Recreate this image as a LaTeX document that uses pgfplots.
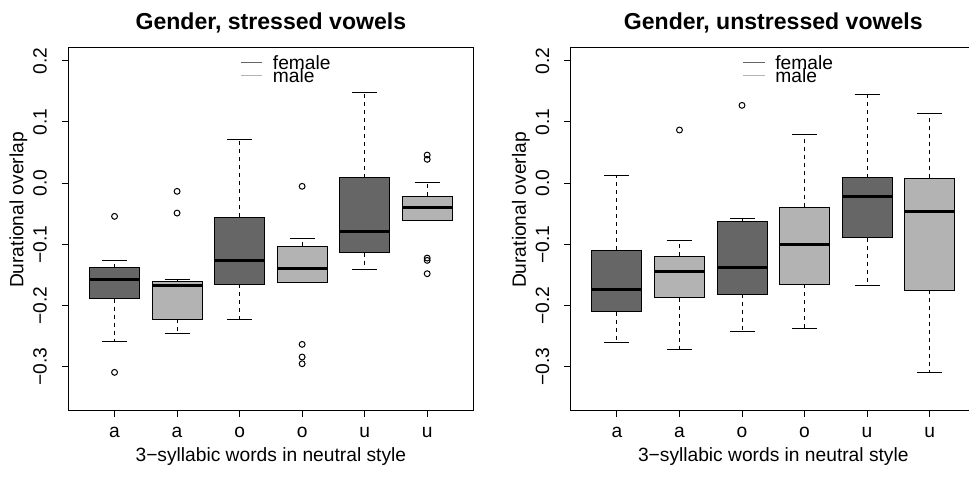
\documentclass[border=0pt]{standalone}
\usepackage{pgfplots}
\pgfplotsset{compat=1.18}
\usepackage{fontspec}
\setmainfont{Liberation Sans}
\definecolor{boxdark}{HTML}{666666}
\definecolor{boxlight}{HTML}{B3B3B3}
\newcommand\basefont{\fontsize{14.4pt}{17pt}\selectfont}
\newcommand\titlefont{\fontsize{17.3pt}{20pt}\selectfont\bfseries}
\pgfplotsset{
  rpanel/.style={
    scale only axis, width=303.9pt, height=272pt, anchor=south west,
    xmin=0.26, xmax=6.74, ymin=-0.3707, ymax=0.2219,
    axis line style={line width=0.75pt},
    every tick/.style={black, line width=0.75pt},
    tick align=outside, major tick length=5pt,
    xtick pos=left, ytick pos=left,
    xtick={1,2,3,4,5,6}, xticklabels={a,a,o,o,u,u},
    ytick={-0.3,-0.2,-0.1,0,0.1,0.2},
    yticklabels={−0.3,−0.2,−0.1,0.0,0.1,0.2},
    xticklabel style={font=\basefont, anchor=base, inner sep=0pt, yshift=-15.5pt},
    yticklabel style={font=\basefont, inner sep=0pt, xshift=-11.25pt, rotate=90, anchor=base},
    xlabel={3−syllabic words in neutral style},
    ylabel={Durational overlap},
    xlabel style={font=\basefont, at={(axis description cs:0.5,-0.127)}, anchor=center},
    ylabel style={font=\basefont, at={(axis description cs:-0.1229,0.5514)}, anchor=center},
    title style={font=\titlefont, at={(axis description cs:0.5,1)}, anchor=base, yshift=7pt},
    legend style={draw=none, fill=none, at={(axis description cs:0.4237,0.976)}, anchor=north west,
      inner sep=0pt, row sep=0pt, column sep=7.5pt, font=\basefont,
      nodes={inner sep=0pt, text height=10pt, text depth=0pt}},
    legend cell align=left,
  },
  legend image code/.code={\draw[#1, line width=0.75pt] (0pt,0.7pt) -- (16.3pt,0.7pt);},
  mbox/.style={forget plot, draw=black, line width=0.75pt, mark=none, solid},
  mmed/.style={forget plot, draw=black, line width=2.25pt, mark=none, solid},
  mwh/.style={forget plot, draw=black, line width=0.75pt, mark=none, dash pattern=on 3pt off 3pt},
  mcap/.style={forget plot, draw=black, line width=0.75pt, mark=none, solid},
  mout/.style={forget plot, only marks, mark=o, mark size=2.2pt, mark options={solid, draw=black, fill=none, line width=0.75pt}},
}
\begin{document}
\begin{tikzpicture}
\useasboundingbox (0,0) rectangle (726.75pt,365.25pt);
\begin{axis}[rpanel, at={(51.2pt,57.75pt)}, title={Gender, stressed vowels}]
\addlegendimage{boxdark}\addlegendentry{female}
\addlegendimage{boxlight}\addlegendentry{male}
% box 1 (a, female)
\addplot[mwh] coordinates {(1,-0.1382) (1,-0.1257)};
\addplot[mwh] coordinates {(1,-0.1888) (1,-0.258)};
\addplot[mcap] coordinates {(0.8,-0.1257) (1.2,-0.1257)};
\addplot[mcap] coordinates {(0.8,-0.258) (1.2,-0.258)};
\addplot[mbox, fill=boxdark] coordinates {(0.6,-0.1888) (1.4,-0.1888) (1.4,-0.1382) (0.6,-0.1382)} -- cycle;
\addplot[mmed] coordinates {(0.6,-0.1567) (1.4,-0.1567)};
\addplot[mout] coordinates {(1,-0.0543) (1,-0.3092)};
% box 2 (a, male)
\addplot[mwh] coordinates {(2,-0.1611) (2,-0.1572)};
\addplot[mwh] coordinates {(2,-0.2226) (2,-0.2455)};
\addplot[mcap] coordinates {(1.8,-0.1572) (2.2,-0.1572)};
\addplot[mcap] coordinates {(1.8,-0.2455) (2.2,-0.2455)};
\addplot[mbox, fill=boxlight] coordinates {(1.6,-0.2226) (2.4,-0.2226) (2.4,-0.1611) (1.6,-0.1611)} -- cycle;
\addplot[mmed] coordinates {(1.6,-0.1676) (2.4,-0.1676)};
\addplot[mout] coordinates {(2,-0.0134) (2,-0.0489)};
% box 3 (o, female)
\addplot[mwh] coordinates {(3,-0.0559) (3,0.0716)};
\addplot[mwh] coordinates {(3,-0.1649) (3,-0.2232)};
\addplot[mcap] coordinates {(2.8,0.0716) (3.2,0.0716)};
\addplot[mcap] coordinates {(2.8,-0.2232) (3.2,-0.2232)};
\addplot[mbox, fill=boxdark] coordinates {(2.6,-0.1649) (3.4,-0.1649) (3.4,-0.0559) (2.6,-0.0559)} -- cycle;
\addplot[mmed] coordinates {(2.6,-0.1257) (3.4,-0.1257)};
% box 4 (o, male)
\addplot[mwh] coordinates {(4,-0.1033) (4,-0.0897)};
\addplot[mcap] coordinates {(3.8,-0.0897) (4.2,-0.0897)};
\addplot[mcap] coordinates {(3.8,-0.1627) (4.2,-0.1627)};
\addplot[mbox, fill=boxlight] coordinates {(3.6,-0.1627) (4.4,-0.1627) (4.4,-0.1033) (3.6,-0.1033)} -- cycle;
\addplot[mmed] coordinates {(3.6,-0.1399) (4.4,-0.1399)};
\addplot[mout] coordinates {(4,-0.0052) (4,-0.2634) (4,-0.2841) (4,-0.2951)};
% box 5 (u, female)
\addplot[mwh] coordinates {(5,0.0088) (5,0.1477)};
\addplot[mwh] coordinates {(5,-0.1137) (5,-0.1415)};
\addplot[mcap] coordinates {(4.8,0.1477) (5.2,0.1477)};
\addplot[mcap] coordinates {(4.8,-0.1415) (5.2,-0.1415)};
\addplot[mbox, fill=boxdark] coordinates {(4.6,-0.1137) (5.4,-0.1137) (5.4,0.0088) (4.6,0.0088)} -- cycle;
\addplot[mmed] coordinates {(4.6,-0.0794) (5.4,-0.0794)};
% box 6 (u, male)
\addplot[mwh] coordinates {(6,-0.0216) (6,0.0018)};
\addplot[mcap] coordinates {(5.8,0.0018) (6.2,0.0018)};
\addplot[mcap] coordinates {(5.8,-0.0603) (6.2,-0.0603)};
\addplot[mbox, fill=boxlight] coordinates {(5.6,-0.0603) (6.4,-0.0603) (6.4,-0.0216) (5.6,-0.0216)} -- cycle;
\addplot[mmed] coordinates {(5.6,-0.039) (6.4,-0.039)};
\addplot[mout] coordinates {(6,0.0459) (6,0.0389) (6,-0.1224) (6,-0.1262) (6,-0.148)};
\end{axis}
\begin{axis}[rpanel, at={(428.0pt,57.75pt)}, title={Gender, unstressed vowels}]
\addlegendimage{boxdark}\addlegendentry{female}
\addlegendimage{boxlight}\addlegendentry{male}
% box 1
\addplot[mwh] coordinates {(1,-0.1093) (1,0.0132)};
\addplot[mwh] coordinates {(1,-0.2101) (1,-0.2596)};
\addplot[mcap] coordinates {(0.8,0.0132) (1.2,0.0132)};
\addplot[mcap] coordinates {(0.8,-0.2596) (1.2,-0.2596)};
\addplot[mbox, fill=boxdark] coordinates {(0.6,-0.2101) (1.4,-0.2101) (1.4,-0.1093) (0.6,-0.1093)} -- cycle;
\addplot[mmed] coordinates {(0.6,-0.173) (1.4,-0.173)};
% box 2
\addplot[mwh] coordinates {(2,-0.1197) (2,-0.093)};
\addplot[mwh] coordinates {(2,-0.1872) (2,-0.2711)};
\addplot[mcap] coordinates {(1.8,-0.093) (2.2,-0.093)};
\addplot[mcap] coordinates {(1.8,-0.2711) (2.2,-0.2711)};
\addplot[mbox, fill=boxlight] coordinates {(1.6,-0.1872) (2.4,-0.1872) (2.4,-0.1197) (1.6,-0.1197)} -- cycle;
\addplot[mmed] coordinates {(1.6,-0.1447) (2.4,-0.1447)};
\addplot[mout] coordinates {(2,0.0868)};
% box 3
\addplot[mwh] coordinates {(3,-0.0631) (3,-0.0581)};
\addplot[mwh] coordinates {(3,-0.1812) (3,-0.2428)};
\addplot[mcap] coordinates {(2.8,-0.0581) (3.2,-0.0581)};
\addplot[mcap] coordinates {(2.8,-0.2428) (3.2,-0.2428)};
\addplot[mbox, fill=boxdark] coordinates {(2.6,-0.1812) (3.4,-0.1812) (3.4,-0.0631) (2.6,-0.0631)} -- cycle;
\addplot[mmed] coordinates {(2.6,-0.1376) (3.4,-0.1376)};
\addplot[mout] coordinates {(3,0.1271)};
% box 4
\addplot[mwh] coordinates {(4,-0.0396) (4,0.0802)};
\addplot[mwh] coordinates {(4,-0.1654) (4,-0.2373)};
\addplot[mcap] coordinates {(3.8,0.0802) (4.2,0.0802)};
\addplot[mcap] coordinates {(3.8,-0.2373) (4.2,-0.2373)};
\addplot[mbox, fill=boxlight] coordinates {(3.6,-0.1654) (4.4,-0.1654) (4.4,-0.0396) (3.6,-0.0396)} -- cycle;
\addplot[mmed] coordinates {(3.6,-0.0995) (4.4,-0.0995)};
% box 5
\addplot[mwh] coordinates {(5,0.0088) (5,0.1445)};
\addplot[mwh] coordinates {(5,-0.0892) (5,-0.167)};
\addplot[mcap] coordinates {(4.8,0.1445) (5.2,0.1445)};
\addplot[mcap] coordinates {(4.8,-0.167) (5.2,-0.167)};
\addplot[mbox, fill=boxdark] coordinates {(4.6,-0.0892) (5.4,-0.0892) (5.4,0.0088) (4.6,0.0088)} -- cycle;
\addplot[mmed] coordinates {(4.6,-0.0222) (5.4,-0.0222)};
% box 6
\addplot[mwh] coordinates {(6,0.0078) (6,0.114)};
\addplot[mwh] coordinates {(6,-0.1752) (6,-0.3098)};
\addplot[mcap] coordinates {(5.8,0.114) (6.2,0.114)};
\addplot[mcap] coordinates {(5.8,-0.3098) (6.2,-0.3098)};
\addplot[mbox, fill=boxlight] coordinates {(5.6,-0.1752) (6.4,-0.1752) (6.4,0.0078) (5.6,0.0078)} -- cycle;
\addplot[mmed] coordinates {(5.6,-0.0467) (6.4,-0.0467)};
\end{axis}
\end{tikzpicture}
\end{document}
